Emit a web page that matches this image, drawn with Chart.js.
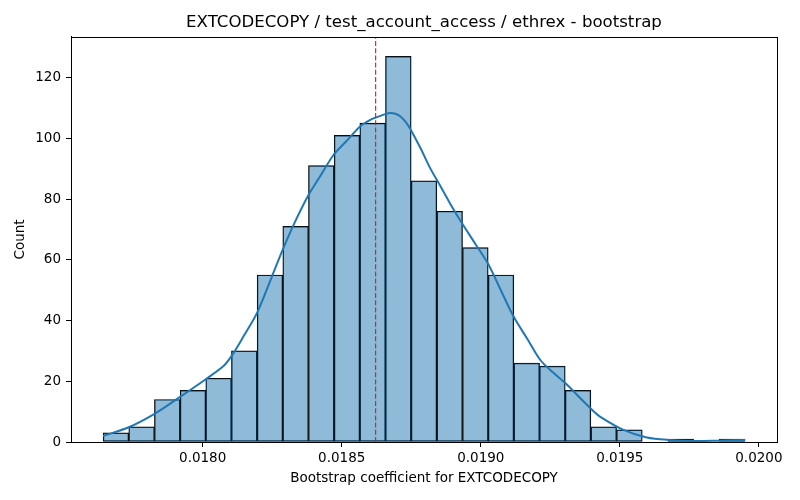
<!DOCTYPE html>
<html>
<head>
<meta charset="utf-8">
<script src="https://cdn.jsdelivr.net/npm/chart.js@4.4.1/dist/chart.umd.min.js"></script>
<style>
  html, body { margin: 0; padding: 0; background: #fff; }
  #wrap { width: 800px; height: 500px; }
</style>
</head>
<body>
<div id="wrap"><canvas id="c" width="800" height="500"></canvas></div>
<script>
// ---- data ----
const binStart = 0.017642;
const binWidth = 0.00009231;
const counts = [3, 5, 14, 17, 21, 30, 55, 71, 91, 101, 105, 127, 86, 76, 64, 55, 26, 25, 17, 5, 4, 0, 1, 0, 1];
const kdeX = [0.017642, 0.017734, 0.017830, 0.017920, 0.018010, 0.018075, 0.018106, 0.018147, 0.018196, 0.018249,
              0.018285, 0.018327, 0.018381, 0.018423, 0.018471, 0.018513, 0.018567, 0.018603, 0.018639, 0.018668,
              0.018693, 0.018711, 0.018729, 0.018747, 0.018783, 0.018818, 0.018854, 0.018890, 0.018932, 0.018980,
              0.019028, 0.019070, 0.019118, 0.019167, 0.019214, 0.019257, 0.019304, 0.019358, 0.019400, 0.019430,
              0.019513, 0.019597, 0.019681, 0.019764, 0.019849, 0.019951];
const kdeY = [1.98, 4.85, 9.46, 14.94, 20.6, 25.0, 28.6, 34.8, 42.6, 54.5,
              62.7, 71.5, 81.4, 87.6, 94.6, 98.7, 104.0, 106.1, 107.4, 108.3,
              108.1, 107.2, 105.5, 103.0, 96.8, 90.2, 84.4, 78.5, 72.1, 65.3,
              58.4, 50.4, 41.3, 34.0, 27.0, 23.1, 19.4, 14.4, 10.6, 8.3,
              4.0, 1.5, 0.66, 0.33, 0.43, 0.66];
const refLine = 0.018622;
const xTicks = [0.0180, 0.0185, 0.0190, 0.0195, 0.0200];
const yTicks = [0, 20, 40, 60, 80, 100, 120];
const xMin = 0.0175266, xMax = 0.0200651;
const yMax = 133.4;

// ---- build datasets ----
const barData = counts.map((c, i) => ({ x: binStart + binWidth * (i + 0.5), y: c }));
const kdeData = kdeX.map((x, i) => ({ x: x, y: kdeY[i] }));
const refData = [{ x: refLine, y: 0 }, { x: refLine, y: yMax }];

const FONT = "'DejaVu Sans', sans-serif";

const framePlugin = {
  id: 'frame',
  afterDatasetsDraw(chart) {
    const a = chart.chartArea, ctx = chart.ctx;
    ctx.save();
    ctx.strokeStyle = '#000';
    ctx.lineWidth = 1;
    ctx.strokeRect(Math.round(a.left) + 0.5, Math.round(a.top) + 0.5,
                   Math.round(a.right - a.left), Math.round(a.bottom - a.top));
    ctx.restore();
  }
};

new Chart(document.getElementById('c'), {
  type: 'bar',
  data: {
    datasets: [
      {
        type: 'line',
        data: refData,
        borderColor: 'rgb(215,25,25)',
        borderWidth: 1.1,
        borderDash: [5, 2.2],
        pointRadius: 0,
        fill: false,
        order: 0
      },
      {
        type: 'line',
        data: kdeData,
        borderColor: '#1f77b4',
        borderWidth: 2,
        pointRadius: 0,
        tension: 0.3,
        fill: false,
        order: 1
      },
      {
        type: 'bar',
        data: barData,
        backgroundColor: 'rgba(31,119,180,0.5)',
        borderColor: '#000',
        borderWidth: 0.8,
        borderSkipped: false,
        barPercentage: 1,
        categoryPercentage: 1,
        grouped: false,
        order: 2
      }
    ]
  },
  options: {
    responsive: false,
    animation: false,
    devicePixelRatio: 1,
    layout: { padding: { left: 0, right: 23, top: 0, bottom: 0 } },
    plugins: {
      legend: { display: false },
      tooltip: { enabled: false },
      title: {
        display: true,
        text: 'EXTCODECOPY / test_account_access / ethrex - bootstrap',
        color: '#000',
        fullSize: false,
        font: { family: FONT, size: 16.6, weight: 'normal' },
        padding: { top: 13, bottom: 4 }
      }
    },
    scales: {
      x: {
        type: 'linear',
        min: xMin,
        max: xMax,
        offset: false,
        afterFit(s) { s.height = 58; },
        afterBuildTicks(s) { s.ticks = xTicks.map(v => ({ value: v })); },
        grid: { display: true, drawOnChartArea: false, drawTicks: true, tickLength: 5, color: '#000', offset: false },
        border: { display: true, color: '#000', width: 1 },
        ticks: {
          color: '#000',
          font: { family: FONT, size: 13.5 },
          padding: 3,
          maxRotation: 0,
          autoSkip: false,
          callback: v => v.toFixed(4)
        },
        title: {
          display: true,
          text: 'Bootstrap coefficient for EXTCODECOPY',
          color: '#000',
          font: { family: FONT, size: 13.5 },
          padding: { top: 0, bottom: 13 }
        }
      },
      y: {
        type: 'linear',
        min: 0,
        max: yMax,
        afterFit(s) { s.width = 71; },
        afterBuildTicks(s) { s.ticks = yTicks.map(v => ({ value: v })); },
        grid: { display: true, drawOnChartArea: false, drawTicks: true, tickLength: 5, color: '#000' },
        border: { display: true, color: '#000', width: 1 },
        ticks: {
          color: '#000',
          font: { family: FONT, size: 13.5 },
          padding: 5,
          autoSkip: false
        },
        title: {
          display: true,
          text: 'Count',
          color: '#000',
          font: { family: FONT, size: 13.5 },
          padding: { top: 12, bottom: 0 }
        }
      }
    }
  },
  plugins: [framePlugin]
});
</script>
</body>
</html>
